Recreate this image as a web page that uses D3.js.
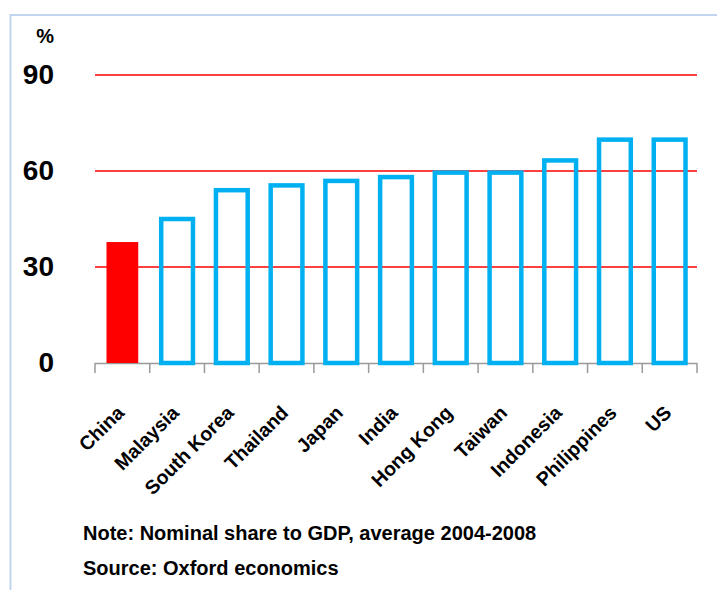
<!DOCTYPE html>
<html>
<head>
<meta charset="utf-8">
<script src="https://cdn.jsdelivr.net/npm/d3@7"></script>
<style>
  body { margin: 0; background: #fff; }
  svg text { font-family: "Liberation Sans", Arial, sans-serif; font-weight: bold; fill: #000; }
</style>
</head>
<body>
<div id="chart"></div>
<script>
const categories = ["China", "Malaysia", "South Korea", "Thailand", "Japan", "India", "Hong Kong", "Taiwan", "Indonesia", "Philippines", "US"];
const values = [37.8, 45.0, 54.0, 55.5, 56.9, 58.1, 59.5, 59.5, 63.3, 69.8, 69.8];
const yTicks = [0, 30, 60, 90];
const notes = ["Note: Nominal share to GDP, average 2004-2008", "Source: Oxford economics"];

const w = 717;
const h = 590;
const plot = {left: 95, right: 697, top: 75, bottom: 363};

const svg = d3.select("#chart")
    .append("svg")
        .attr("width", w)
        .attr("height", h);

// light blue frame around the slide area
svg.append("rect")
    .attr("x", 10.5)
    .attr("y", 15)
    .attr("width", 720)
    .attr("height", 600)
    .attr("fill", "none")
    .attr("stroke", "#c2d5ee")
    .attr("stroke-width", 2);

const x = d3.scaleBand()
    .domain(categories)
    .range([plot.left, plot.right])
    .paddingInner(0.42)
    .paddingOuter(0.21);

const y = d3.scaleLinear()
    .domain([0, 90])
    .range([plot.bottom, plot.top]);

// red gridlines
svg.append("g")
    .selectAll("line")
    .data(yTicks.filter(d => d > 0))
    .enter()
    .append("line")
        .attr("x1", plot.left)
        .attr("x2", plot.right)
        .attr("y1", d => y(d))
        .attr("y2", d => y(d))
        .attr("stroke", "#ff0000")
        .attr("stroke-width", 1.4);

// y axis labels
const yAxis = svg.append("g")
    .attr("transform", "translate(54,0)")
    .call(d3.axisLeft(y).tickValues(yTicks).tickSize(0).tickPadding(0).tickFormat(d3.format("d")));
yAxis.select(".domain").remove();
yAxis.selectAll("text")
    .attr("font-family", "Liberation Sans, Arial, sans-serif")
    .attr("font-weight", "bold")
    .attr("font-size", 28)
    .attr("fill", "#000");

svg.append("text")
    .attr("x", 54)
    .attr("y", 43)
    .attr("text-anchor", "end")
    .attr("font-size", 20)
    .text("%");

// x axis line and boundary ticks
svg.append("line")
    .attr("x1", plot.left)
    .attr("x2", plot.right)
    .attr("y1", y(0) + 0.5)
    .attr("y2", y(0) + 0.5)
    .attr("stroke", "#9a9a9a")
    .attr("stroke-width", 1.5);

svg.append("g")
    .selectAll("line")
    .data(d3.range(categories.length + 1))
    .enter()
    .append("line")
        .attr("x1", i => plot.left + i * x.step())
        .attr("x2", i => plot.left + i * x.step())
        .attr("y1", y(0))
        .attr("y2", y(0) + 10)
        .attr("stroke", "#9a9a9a")
        .attr("stroke-width", 1.5);

// bars: China solid red, the rest blue outlines
svg.append("g")
    .selectAll("rect")
    .data(categories)
    .enter()
    .append("rect")
        .attr("x", d => x(d))
        .attr("y", (d, i) => y(values[i]))
        .attr("width", x.bandwidth())
        .attr("height", (d, i) => y(0) - y(values[i]))
        .attr("fill", (d, i) => i === 0 ? "#ff0000" : "none")
        .attr("stroke", (d, i) => i === 0 ? "none" : "#00b0f0")
        .attr("stroke-width", 4.5);

// rotated category labels
svg.append("g")
    .selectAll("text")
    .data(categories)
    .enter()
    .append("text")
        .attr("transform", d => "translate(" + (x(d) + x.bandwidth() / 2 + 3) + ",414) rotate(-45)")
        .attr("text-anchor", "end")
        .attr("font-size", 19.5)
        .text(d => d);

// footnotes
svg.append("g")
    .selectAll("text")
    .data(notes)
    .enter()
    .append("text")
        .attr("x", 83)
        .attr("y", (d, i) => 540 + i * 35)
        .attr("font-size", 20)
        .text(d => d);
</script>
</body>
</html>
